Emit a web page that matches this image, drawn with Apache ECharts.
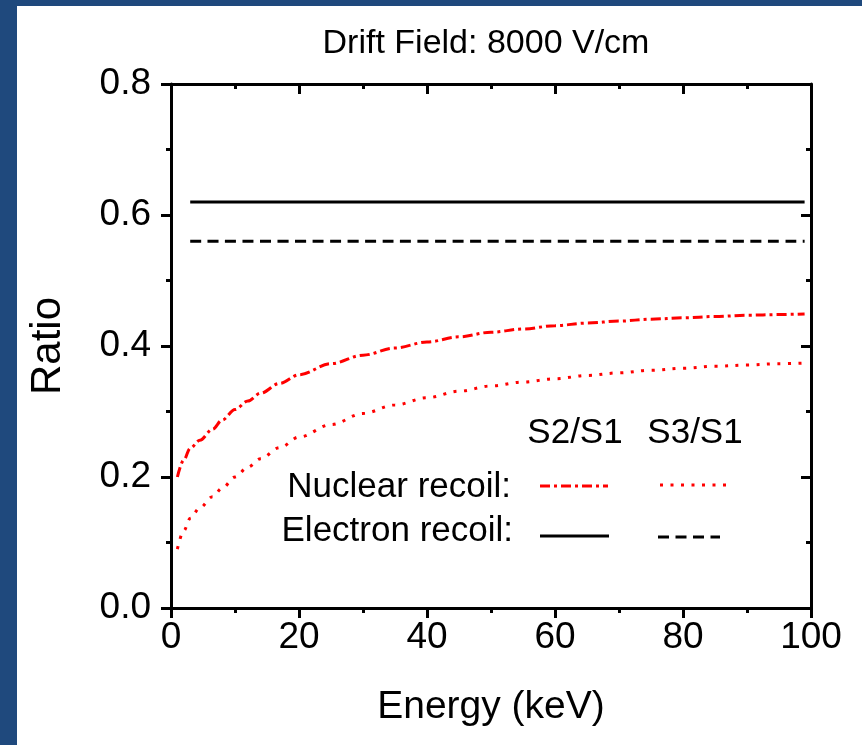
<!DOCTYPE html>
<html>
<head>
<meta charset="utf-8">
<script src="https://cdn.jsdelivr.net/npm/echarts@6/dist/echarts.min.js"></script>
<style>
  html, body { margin: 0; padding: 0; background: #1f497d; }
  #frame { position: absolute; left: 17px; top: 6px; right: 0; bottom: 0; background: #ffffff; }
  #chart { position: absolute; left: 0; top: 0; width: 862px; height: 745px; }
</style>
</head>
<body>
<div id="frame"></div>
<div id="chart"></div>
<script>
// Light-yield ratios versus recoil energy at 8000 V/cm
const energy = [1, 2, 3, 4.5, 6.5, 8, 10, 12, 14, 17, 20, 25, 30, 35, 40, 45, 50, 55, 60, 65, 70, 75, 80, 85, 90, 95, 99];
const nuclearS2S1 = [0.200, 0.226, 0.244, 0.256, 0.273, 0.287, 0.303, 0.316, 0.328, 0.343, 0.356, 0.373, 0.386, 0.397, 0.406, 0.414, 0.421, 0.426, 0.431, 0.435, 0.438, 0.441, 0.443, 0.445, 0.447, 0.448, 0.449];
const nuclearS3S1 = [0.090, 0.118, 0.137, 0.153, 0.170, 0.183, 0.200, 0.215, 0.228, 0.245, 0.261, 0.280, 0.297, 0.310, 0.321, 0.331, 0.339, 0.345, 0.350, 0.355, 0.359, 0.363, 0.366, 0.369, 0.371, 0.373, 0.374];
const electronEnergy = [3, 99];
const electronS2S1 = [0.62, 0.62];
const electronS3S1 = [0.56, 0.56];
const xTicks = [0, 20, 40, 60, 80, 100];
const yTicks = [0.0, 0.2, 0.4, 0.6, 0.8];

const FONT = "'Liberation Sans', Arial, sans-serif";
const RED = '#ff0000';
const BLACK = '#000000';
const DASH_DOT = [10, 4, 3, 4];
const DOTS = [3, 7.5];
const DASHES = [11, 6.5];

const pairs = (xs, ys) => xs.map((x, i) => [x, ys[i]]);

const axisLine = { show: true, onZero: false, lineStyle: { color: BLACK, width: 3 } };
const minorTick = { show: true, splitNumber: 2, length: 5, lineStyle: { color: BLACK, width: 3 } };
const baseX = {
  type: 'value', min: xTicks[0], max: xTicks[xTicks.length - 1], interval: xTicks[1] - xTicks[0],
  axisLine, minorTick, splitLine: { show: false }
};
const baseY = {
  type: 'value', min: yTicks[0], max: yTicks[yTicks.length - 1], interval: yTicks[1] - yTicks[0],
  axisLine, minorTick, splitLine: { show: false }
};

const lineSeries = (name, data, color, type, width) => ({
  name, type: 'line', data, showSymbol: false, symbol: 'none',
  smooth: 0.35, smoothMonotone: 'x',
  lineStyle: { color, width, type, cap: 'butt' },
  animation: false, silent: true
});

// Legend drawn as a small 2x2 table: column headers, row labels, line samples
const legendText = (text, x, y, align) => ({
  type: 'text', x, y,
  style: { text, fill: BLACK, font: `35px ${FONT}`, textAlign: align, textVerticalAlign: 'middle' }
});
const legendLine = (x1, x2, y, color, dash) => ({
  type: 'line', shape: { x1, y1: y, x2, y2: y },
  style: { stroke: color, lineWidth: 3, lineDash: dash }
});

const chart = echarts.init(document.getElementById('chart'), null, { renderer: 'canvas' });
chart.setOption({
  backgroundColor: 'transparent',
  animation: false,
  title: {
    text: 'Drift Field: 8000 V/cm', left: 481, top: 22, textAlign: 'center',
    textStyle: { fontFamily: FONT, fontSize: 34, fontWeight: 'normal', color: BLACK }
  },
  grid: { left: 171, right: 51, top: 84, bottom: 137, containLabel: false },
  xAxis: [
    Object.assign({}, baseX, {
      position: 'bottom', name: 'Energy (keV)', nameLocation: 'middle', nameGap: 80,
      nameTextStyle: { fontFamily: FONT, fontSize: 39, color: BLACK },
      axisTick: { show: true, inside: false, length: 10, lineStyle: { color: BLACK, width: 3 } },
      axisLabel: { show: true, fontFamily: FONT, fontSize: 37, color: BLACK, margin: 11 }
    }),
    Object.assign({}, baseX, {
      position: 'top',
      axisTick: { show: true, inside: true, length: 10, lineStyle: { color: BLACK, width: 3 } },
      axisLabel: { show: false }
    })
  ],
  yAxis: [
    Object.assign({}, baseY, {
      position: 'left', name: 'Ratio', nameLocation: 'middle', nameGap: 102, nameRotate: 90,
      nameTextStyle: { fontFamily: FONT, fontSize: 42, color: BLACK },
      axisTick: { show: true, inside: false, length: 10, lineStyle: { color: BLACK, width: 3 } },
      axisLabel: { show: true, fontFamily: FONT, fontSize: 37, color: BLACK, margin: 20,
        formatter: v => v.toFixed(1) }
    }),
    Object.assign({}, baseY, {
      position: 'right',
      axisTick: { show: true, inside: true, length: 10, lineStyle: { color: BLACK, width: 3 } },
      axisLabel: { show: false }
    })
  ],
  series: [
    lineSeries('Electron recoil S2/S1', pairs(electronEnergy, electronS2S1), BLACK, 'solid', 3),
    lineSeries('Electron recoil S3/S1', pairs(electronEnergy, electronS3S1), BLACK, DASHES, 3),
    lineSeries('Nuclear recoil S2/S1', pairs(energy, nuclearS2S1), RED, DASH_DOT, 3),
    lineSeries('Nuclear recoil S3/S1', pairs(energy, nuclearS3S1), RED, DOTS, 3)
  ],
  graphic: [
    legendText('S2/S1', 575, 433, 'center'),
    legendText('S3/S1', 695, 433, 'center'),
    legendText('Nuclear recoil:', 511, 487, 'right'),
    legendText('Electron recoil:', 513, 531, 'right'),
    legendLine(540, 608, 486, RED, DASH_DOT),
    legendLine(660, 726, 485, RED, DOTS),
    legendLine(540, 609, 536, BLACK, null),
    legendLine(658, 720, 537, BLACK, DASHES)
  ]
});
</script>
</body>
</html>
